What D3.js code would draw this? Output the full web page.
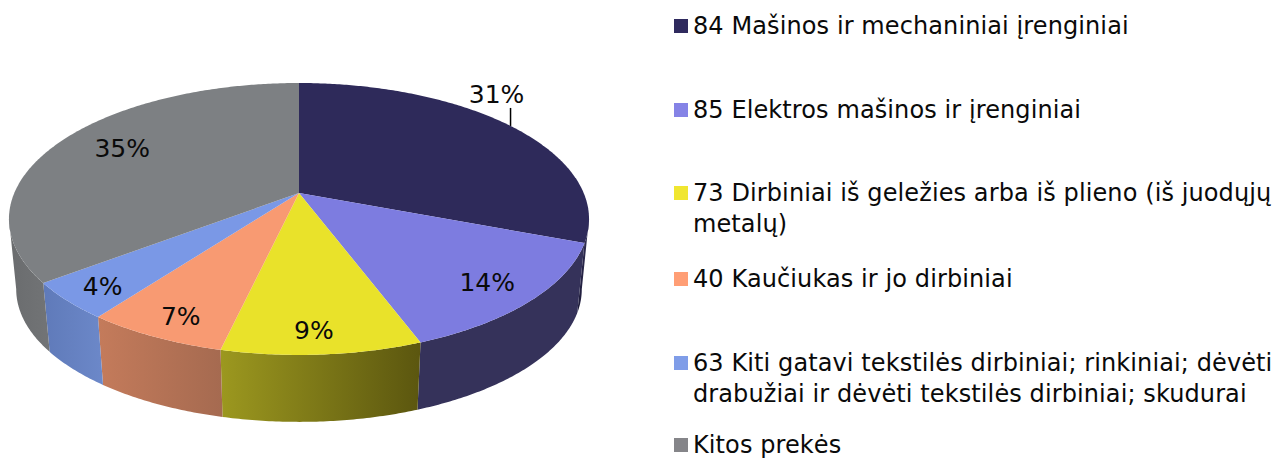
<!DOCTYPE html>
<html>
<head>
<meta charset="utf-8">
<script src="https://cdn.jsdelivr.net/npm/d3@7"></script>
<style>
  html, body { margin: 0; padding: 0; background: #fff; }
  svg { display: block; }
  text { font-family: "DejaVu Sans", sans-serif; fill: #0a0a0a; }
</style>
</head>
<body>
<div id="chart"></div>
<script>
  "use strict";

  // slice shares (labels show them rounded)
  const categories = ["84", "85", "73", "40", "63", "Kitos"];
  const shares = [30.8, 13.5, 9.3, 6.6, 4.4, 35.4];
  const legendLines = [
    ["84 Mašinos ir mechaniniai įrenginiai"],
    ["85 Elektros mašinos ir įrenginiai"],
    ["73 Dirbiniai iš geležies arba iš plieno (iš juodųjų", "metalų)"],
    ["40 Kaučiukas ir jo dirbiniai"],
    ["63 Kiti gatavi tekstilės dirbiniai; rinkiniai; dėvėti", "drabužiai ir dėvėti tekstilės dirbiniai; skudurai"],
    ["Kitos prekės"]
  ];

  // colours
  const topColors = ["#2e2a5a", "#7d7ce0", "#e9e22a", "#f89a72", "#7a98e6", "#7d8083"];
  const legendColors = ["#2f2a5e", "#8583e6", "#f0e630", "#ff9e75", "#7f9de8", "#858589"];
  const wallStops = [
    ["#1b1936", "#35325a"],
    ["#35325a", "#35325a"],
    ["#9c981f", "#5b560f"],
    ["#c47b5b", "#a56a50"],
    ["#5f7ab9", "#6c88c9"],
    ["#6a6c6e", "#727476"]
  ];

  // pie geometry, perspective tilted disc
  const cx = 299, cy = 193;
  const radX = 284.7, radY = 131, persp = 0.191;
  const baseScale = 0.975, baseCy = 264;
  // radial position of labels inside the slices, plus a small nudge
  const labelRadius = [1, 0.84, 0.88, 0.88, 0.87, 0.74];
  const labelNudge = [[0, 1], [-2, 1], [-5, -1], [6, 0], [1, 2], [1, -4]];
  // legend layout
  const legendX = 674, textX = 693, swatchW = 14, swatchH = 14;
  const legendRowY = [26, 110, 193, 279, 363, 445];
  const lineGap = 31;

  const width = 1277, height = 459;
  const svg = d3.select("#chart").append("svg")
    .attr("width", width)
    .attr("height", height);
  const defs = svg.append("defs");

  // project a polar point (a = clockwise from top, r = 0..1) to the screen
  function project(a, r, base) {
    const u = r * Math.sin(a);
    const v = -r * Math.cos(a);
    const s = 1 / (1 - persp * v);
    if (base) {
      return [cx + baseScale * radX * u * s, baseCy + baseScale * radY * v * s];
    }
    return [cx + radX * u * s, cy + radY * v * s];
  }

  const pie = d3.pie().sort(null).value((d) => d);
  const arcs = pie(shares);
  const line = d3.line();

  function sampleAngles(a0, a1) {
    const n = Math.max(2, Math.ceil((a1 - a0) / 0.01));
    return d3.range(n + 1).map((i) => a0 + (a1 - a0) * i / n);
  }

  // visible part of the side wall sits between the two tangent angles
  const wallFrom = Math.acos(-persp);
  const wallTo = 2 * Math.PI - wallFrom;

  const wallG = svg.append("g");
  arcs.forEach((d, i) => {
    const a0 = Math.max(d.startAngle, wallFrom);
    const a1 = Math.min(d.endAngle, wallTo);
    if (a1 <= a0) return;
    const angles = sampleAngles(a0, a1);
    const pts = angles.map((a) => project(a, 1, false))
      .concat(angles.slice().reverse().map((a) => project(a, 1, true)));
    const xs = d3.extent(pts, (p) => p[0]);
    const grad = defs.append("linearGradient")
      .attr("id", "wall-" + i)
      .attr("gradientUnits", "userSpaceOnUse")
      .attr("x1", xs[0]).attr("x2", xs[1])
      .attr("y1", 0).attr("y2", 0);
    grad.append("stop").attr("offset", "0%").attr("stop-color", wallStops[i][0]);
    grad.append("stop").attr("offset", "100%").attr("stop-color", wallStops[i][1]);
    wallG.append("path")
      .attr("d", line(pts) + "Z")
      .attr("fill", "url(#wall-" + i + ")");
  });

  // top face
  svg.append("g").selectAll("path")
    .data(arcs)
    .join("path")
    .attr("d", (d) => {
      const pts = sampleAngles(d.startAngle, d.endAngle).map((a) => project(a, 1, false));
      return line([[cx, cy]].concat(pts)) + "Z";
    })
    .attr("fill", (d, i) => topColors[i]);

  // percent labels
  const labelG = svg.append("g");
  arcs.forEach((d, i) => {
    const mid = (d.startAngle + d.endAngle) / 2;
    let p = project(mid, labelRadius[i], false);
    if (i === 0) {
      // first label sits outside the pie with a short leader
      labelG.append("line")
        .attr("x1", p[0]).attr("x2", p[0])
        .attr("y1", p[1]).attr("y2", p[1] - 18)
        .attr("stroke", "#000")
        .attr("stroke-width", 1.5);
      p = [p[0] - 14, p[1] - 32];
    }
    labelG.append("text")
      .attr("x", p[0] + labelNudge[i][0])
      .attr("y", p[1] + labelNudge[i][1])
      .attr("text-anchor", "middle")
      .attr("dominant-baseline", "central")
      .attr("font-size", 25)
      .text(d3.format(".0f")(d.data) + "%");
  });

  // legend
  const legendG = svg.append("g");
  categories.forEach((c, i) => {
    legendG.append("rect")
      .attr("x", legendX)
      .attr("y", legendRowY[i] - swatchH / 2)
      .attr("width", swatchW)
      .attr("height", swatchH)
      .attr("fill", legendColors[i]);
    legendLines[i].forEach((t, j) => {
      legendG.append("text")
        .attr("x", textX)
        .attr("y", legendRowY[i] + j * lineGap)
        .attr("dominant-baseline", "central")
        .attr("font-size", 24)
        .attr("letter-spacing", 0.1)
        .text(t);
    });
  });
</script>
</body>
</html>
